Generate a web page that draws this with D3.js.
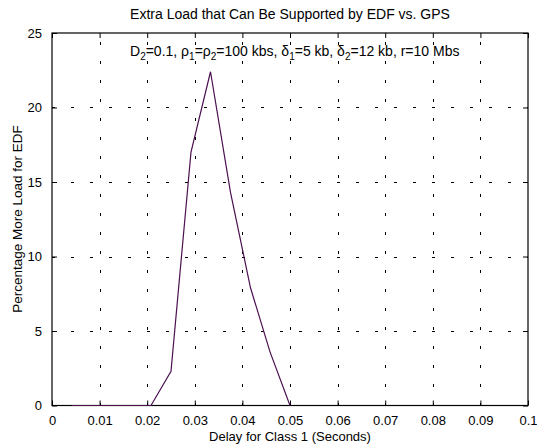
<!DOCTYPE html>
<html>
<head>
<meta charset="utf-8">
<script src="https://cdn.jsdelivr.net/npm/d3@7"></script>
<style>
  html, body { margin: 0; padding: 0; background: #fff; }
  svg { display: block; font-family: "Liberation Sans", Arial, sans-serif; }
</style>
</head>
<body>
<svg id="chart" width="537" height="446"></svg>
<script>
// Class 1 delay (seconds) and the extra load EDF supports over GPS (%)
const delays = [0.0042, 0.0083, 0.0125, 0.0167, 0.0208, 0.025, 0.0292, 0.0333, 0.0375, 0.0417, 0.0458, 0.05];
const extraLoad = [0, 0, 0, 0, 0, 2.3, 17.0, 22.4, 14.3, 7.9, 3.6, 0];

const xTicks = [0, 0.01, 0.02, 0.03, 0.04, 0.05, 0.06, 0.07, 0.08, 0.09, 0.1];
const xTickLabels = ["0", "0.01", "0.02", "0.03", "0.04", "0.05", "0.06", "0.07", "0.08", "0.09", "0.1"];
const yTicks = [0, 5, 10, 15, 20, 25];
const yTickLabels = ["0", "5", "10", "15", "20", "25"];

(function draw() {
  const svg = d3.select("#chart");
  const mLeft = 52, mRight = 528, mTop = 33, mBottom = 405.5;

  const x = d3.scaleLinear().domain([0, 0.1]).range([mLeft, mRight]);
  const y = d3.scaleLinear().domain([0, 25]).range([mBottom, mTop]);

  // dotted grid
  const grid = svg.append("g").attr("stroke", "#000").attr("stroke-width", 1)
    .attr("stroke-dasharray", "3,16").attr("shape-rendering", "crispEdges");
  grid.selectAll(".gx").data(xTicks.slice(1, -1)).join("line")
    .attr("x1", d => Math.round(x(d)) + 0.5).attr("x2", d => Math.round(x(d)) + 0.5)
    .attr("y1", mBottom).attr("y2", mTop);
  grid.selectAll(".gy").data(yTicks.slice(1, -1)).join("line")
    .attr("x1", mLeft).attr("x2", mRight)
    .attr("y1", d => Math.round(y(d)) + 0.5).attr("y2", d => Math.round(y(d)) + 0.5);

  // axes with inward ticks on all four sides
  const fmtX = (d, i) => xTickLabels[i];
  const fmtY = (d, i) => yTickLabels[i];
  const axisStyle = g => {
    g.select(".domain").remove();
    g.selectAll("line").attr("stroke", "#000");
    g.selectAll("text").attr("fill", "#000").attr("font-size", 13)
      .attr("font-family", "Liberation Sans, Arial, sans-serif");
  };
  svg.append("g").attr("transform", `translate(0,${mBottom})`)
    .call(d3.axisBottom(x).tickValues(xTicks).tickFormat(fmtX).tickSizeInner(-5).tickPadding(10))
    .call(axisStyle);
  svg.append("g").attr("transform", `translate(0,${mTop})`)
    .call(d3.axisTop(x).tickValues(xTicks).tickFormat("").tickSizeInner(-5))
    .call(axisStyle);
  svg.append("g").attr("transform", `translate(${mLeft},0)`)
    .call(d3.axisLeft(y).tickValues(yTicks).tickFormat(fmtY).tickSizeInner(-5).tickPadding(10))
    .call(axisStyle);
  svg.append("g").attr("transform", `translate(${mRight},0)`)
    .call(d3.axisRight(y).tickValues(yTicks).tickFormat("").tickSizeInner(-5))
    .call(axisStyle);

  // plot frame
  svg.append("rect").attr("x", mLeft).attr("y", mTop)
    .attr("width", mRight - mLeft).attr("height", mBottom - mTop)
    .attr("fill", "none").attr("stroke", "#000").attr("stroke-width", 1.2);

  // data line
  const line = d3.line().x((d, i) => x(delays[i])).y(d => y(d));
  svg.append("path").datum(extraLoad)
    .attr("d", line).attr("fill", "none")
    .attr("stroke", "#4b1050").attr("stroke-width", 1.2);

  // title and axis labels
  svg.append("text").attr("x", 290).attr("y", 19).attr("text-anchor", "middle")
    .attr("font-size", 14).text("Extra Load that Can Be Supported by EDF vs. GPS");
  svg.append("text").attr("x", 290).attr("y", 441).attr("text-anchor", "middle")
    .attr("font-size", 13).text("Delay for Class 1 (Seconds)");
  svg.append("text").attr("transform", "translate(22,219) rotate(-90)")
    .attr("text-anchor", "middle").attr("font-size", 13.5).text("Percentage More Load for EDF");

  // parameter annotation with subscripts
  const note = svg.append("text").attr("x", 130).attr("y", 60).attr("font-size", 14);
  const parts = [
    ["D", false], ["2", true], ["=0.1, \u03c1", false], ["1", true], ["=\u03c1", false], ["2", true],
    ["=100 kbs, \u03b4", false], ["1", true], ["=5 kb, \u03b4", false], ["2", true], ["=12 kb, r=10 Mbs", false]
  ];
  parts.forEach(([t, sub]) => {
    if (sub) {
      note.append("tspan").attr("dy", 4).attr("font-size", 10).text(t);
    } else {
      note.append("tspan").attr("dy", note.selectAll("tspan").size() ? -4 : 0).text(t);
    }
  });
})();
</script>
</body>
</html>
